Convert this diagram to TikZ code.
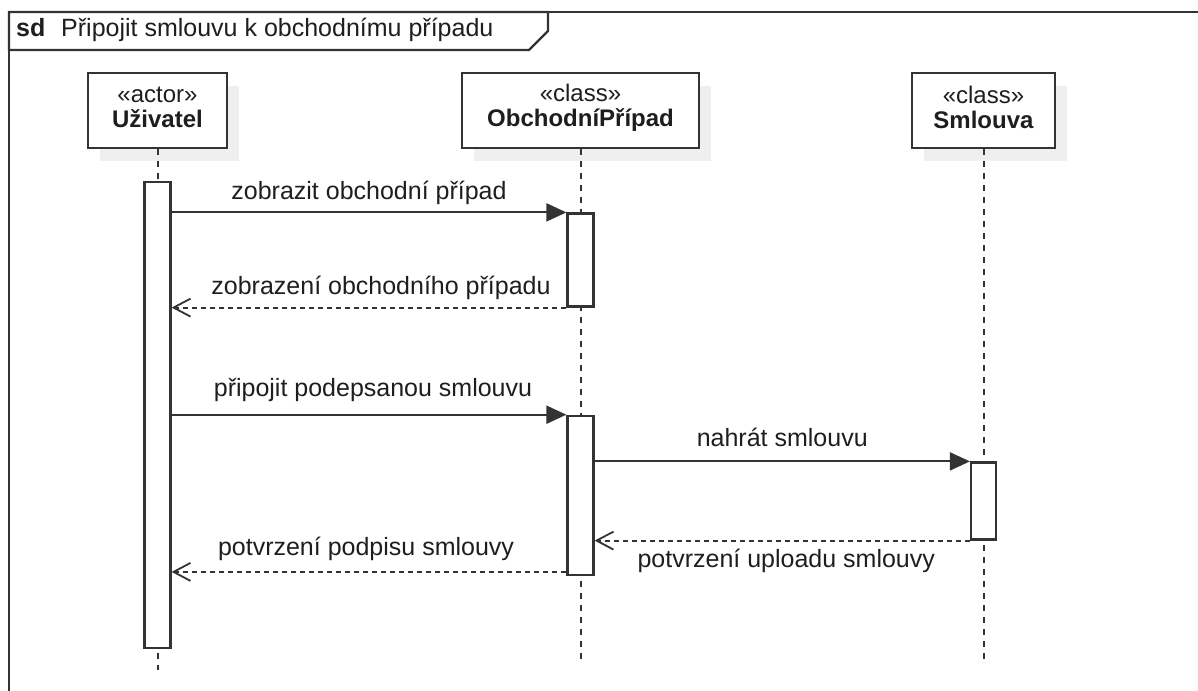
\documentclass[tikz,border=0pt]{standalone}
\usepackage{fontspec}
\setmainfont{Liberation Sans}
\usetikzlibrary{arrows.meta}
\definecolor{ink}{HTML}{333333}
\definecolor{txt}{HTML}{1E1E1E}
\definecolor{shade}{HTML}{EFEFEF}

\begin{document}
\begin{tikzpicture}[x=1pt, y=-1pt,
  every node/.style={text=txt, font=\fontsize{25}{28}\selectfont},
  head/.style={draw=ink, line width=2.5pt, fill=white, minimum height=75pt, inner sep=0pt},
  headshadow/.style={fill=shade, draw=none, minimum height=75pt, inner sep=0pt},
  headtext/.style={align=center, inner sep=0pt, font=\fontsize{24}{25}\selectfont},
  bar/.style={draw=ink, line width=2.2pt, fill=white, minimum width=26pt, inner sep=0pt},
  life/.style={draw=ink, line width=2pt, dash pattern=on 6pt off 6pt},
  call/.style={draw=ink, line width=2pt, -{Triangle[length=20pt, width=18pt]}},
  reply/.style={draw=ink, line width=1.8pt, dash pattern=on 5pt off 4pt,
                -{Straight Barb[length=17pt, width=18pt]}},
  lbl/.style={anchor=base, inner sep=0pt}
]
\useasboundingbox (0,0) rectangle (1198,690);
\clip (0,0) rectangle (1198,690);

% diagram frame and its name tab
\draw[ink, line width=2.5pt] (9,12) rectangle (1230,720);
\draw[ink, line width=2.2pt, fill=white]
  (9,12) -- (548,12) -- (548,31) -- (529,50) -- (9,50) -- cycle;
\node[anchor=base west, inner sep=0pt] (sd) at (16,37) {\textbf{sd}};
\node[anchor=base west, inner sep=0pt] (title) at (61,37) {Připojit smlouvu k obchodnímu případu};

% soft shadows behind the lifeline heads
\node[headshadow, minimum width=139pt] (u-sh) at (169.5,123.5) {};
\node[headshadow, minimum width=237pt] (o-sh) at (592.5,123.5) {};
\node[headshadow, minimum width=143pt] (s-sh) at (995.5,123.5) {};

% lifeline heads
\node[head, minimum width=139pt] (u) at (157.5,110.5) {};
\node[head, minimum width=237pt] (o) at (580.5,110.5) {};
\node[head, minimum width=143pt] (s) at (983.5,110.5) {};
\node[headtext] (u-txt) at ([yshift=3pt]u.center) {«actor»\\\textbf{Uživatel}};
\node[headtext] (o-txt) at ([yshift=3pt]o.center) {«class»\\\textbf{ObchodníPřípad}};
\node[headtext] (s-txt) at ([yshift=3pt]s.center) {«class»\\\textbf{Smlouva}};

% lifelines
\coordinate (u-end) at (157.5,670);
\coordinate (o-end) at (580.5,660);
\coordinate (s-end) at (983.5,660);
\draw[life] (u.south) -- (u-end);
\draw[life] (o.south) -- (o-end);
\draw[life] (s.south) -- (s-end);

% activation bars
\node[bar, minimum height=466pt] (ub)  at (157.5,415) {};
\node[bar, minimum height=93pt]  (ob1) at (580.5,260) {};
\node[bar, minimum height=159pt] (ob2) at (580.5,495.3) {};
\node[bar, minimum height=77pt, minimum width=25pt] (sb) at (983.5,501) {};

% messages
\draw[call] (ub.east |- ob1.north) -- (ob1.north west)
  node[lbl, midway, yshift=13pt] {zobrazit obchodní případ};
\draw[reply] (ob1.south west) -- (ub.east |- ob1.south)
  node[lbl, midway, yshift=13pt, xshift=12pt] {zobrazení obchodního případu};
\draw[call] (ub.east |- ob2.north) -- (ob2.north west)
  node[lbl, midway, yshift=18pt, xshift=4pt] {připojit podepsanou smlouvu};
\draw[call] (ob2.east |- sb.north) -- (sb.north west)
  node[lbl, midway, yshift=15pt] {nahrát smlouvu};
\draw[reply] (sb.south west) -- (ob2.east |- sb.south)
  node[lbl, midway, yshift=-27pt, xshift=4pt] {potvrzení uploadu smlouvy};
\coordinate (r6) at ([yshift=4pt]ob2.south west);
\draw[reply] (r6) -- (ub.east |- r6)
  node[lbl, midway, yshift=16pt, xshift=-3pt] {potvrzení podpisu smlouvy};
\end{tikzpicture}
\end{document}
